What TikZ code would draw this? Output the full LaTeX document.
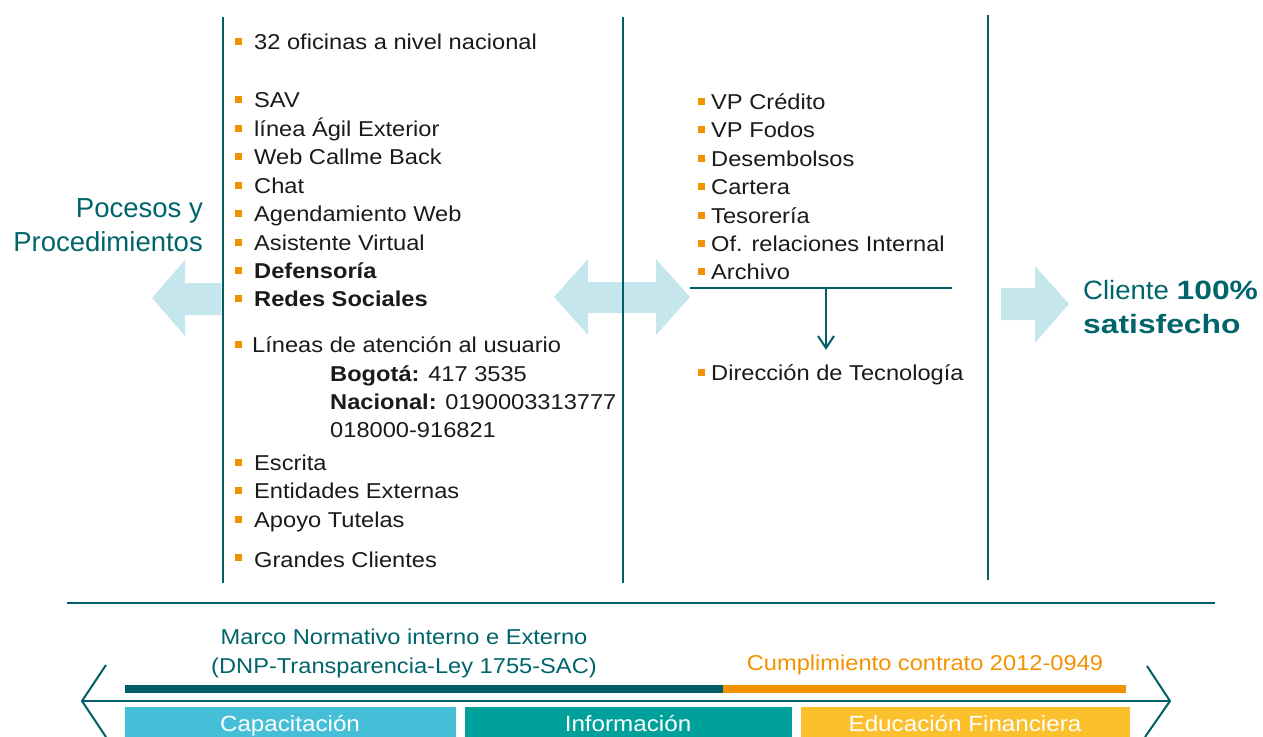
\documentclass[tikz,border=0pt]{standalone}
\usepackage{fontspec}
\setmainfont{Liberation Sans}
\newfontfamily\widefont{Liberation Sans}[FakeStretch=1.1]
\newfontfamily\clireg{Liberation Sans}[FakeStretch=1.04]
\newfontfamily\clibold{Liberation Sans}[FakeStretch=1.2]
\definecolor{teal}{HTML}{005E66}
\definecolor{tealtext}{HTML}{00646B}
\definecolor{bulorange}{HTML}{F39200}
\definecolor{lightblue}{HTML}{C6E6ED}
\definecolor{capblue}{HTML}{45BFD8}
\definecolor{infteal}{HTML}{00A19B}
\definecolor{eduyellow}{HTML}{FBC02D}
\definecolor{txt}{HTML}{1A1A1A}
\begin{document}
\begin{tikzpicture}[x=1pt,y=-1pt,
  item/.style={anchor=west,inner sep=0pt,text height=15.4pt,text depth=0pt,
    font=\widefont\fontsize{21.5}{26}\selectfont,text=txt},
  bul/.style={fill=bulorange,minimum size=7pt,inner sep=0pt},
  vline/.style={draw=teal,line width=2pt},
  bigarrow/.style={fill=lightblue,draw=none},
  bottxt/.style={inner sep=0pt,text height=15.4pt,text depth=0pt,
    font=\widefont\fontsize{21.5}{26}\selectfont},
  boxtxt/.style={inner sep=0pt,text height=15.8pt,text depth=0pt,text=white,
    font=\widefont\fontsize{22}{26}\selectfont},
  clitxt/.style={anchor=west,inner sep=0pt,text height=19pt,text depth=0pt,text=tealtext,
    font=\fontsize{26.5}{32}\selectfont}]
\useasboundingbox (0,0) rectangle (1263,736);
\clip (0,0) rectangle (1263,736);

% big light arrows
\fill[bigarrow] (221,283) -- (185,283) -- (185,260) -- (152,298) -- (185,336) -- (185,315) -- (221,315) -- cycle;
\fill[bigarrow] (554,297) -- (588,259) -- (588,282) -- (656,282) -- (656,259) -- (690,297) -- (656,335) -- (656,313) -- (588,313) -- (588,335) -- cycle;
\fill[bigarrow] (1001,288) -- (1035,288) -- (1035,266) -- (1069,304) -- (1035,343) -- (1035,320) -- (1001,320) -- cycle;

% vertical lines
\coordinate (v1t) at (223,17); \coordinate (v1b) at (223,583);
\coordinate (v2t) at (623,17); \coordinate (v2b) at (623,583);
\coordinate (v3t) at (988,15); \coordinate (v3b) at (988,580);
\draw[vline] (v1t) -- (v1b);
\draw[vline] (v2t) -- (v2b);
\draw[vline] (v3t) -- (v3b);

% left title
\node[anchor=east,inner sep=0pt,text height=19.7pt,text depth=0pt,text=tealtext,
  font=\fontsize{27.5}{32}\selectfont] (pt1) at (203,208) {Pocesos y};
\node[anchor=east,inner sep=0pt,text height=19.7pt,text depth=0pt,text=tealtext,
  font=\fontsize{27.5}{32}\selectfont] (pt2) at (203,242) {Procedimientos};

% right title
\node[clitxt] (cl1) at (1083,290) {\clireg Cliente \clibold\bfseries 100\%};
\node[clitxt] (cl2) at (1083,324) {\clibold\bfseries satisfecho};

% left list
\foreach \n/\y/\t in {a/42/{32 oficinas a nivel nacional},b/100/SAV,c/129/{línea Ágil Exterior},
  d/157/{Web Callme Back},e/186/Chat,f/214/{Agendamiento Web},g/243/{Asistente Virtual},
  h/271/{\textbf{Defensoría}},i/299/{\textbf{Redes Sociales}},
  k/463/Escrita,l/491/{Entidades Externas},m/520/{Apoyo Tutelas}}{
  \node[bul] (lb\n) at (238,\y-1) {};
  \node[item] (lt\n) at (254,\y) {\t};
}
\node[bul] (lbj) at (238,344) {};
\node[item] (ltj) at (252,345) {Líneas de atención al usuario};
\node[item] (ltj1) at (330,374) {\textbf{Bogotá:} 417 3535};
\node[item] (ltj2) at (330,402) {\textbf{Nacional:} 0190003313777};
\node[item] (ltj3) at (330,430) {018000-916821};
\node[bul] (lbn) at (238,557) {};
\node[item] (ltn) at (254,560) {Grandes Clientes};

% middle list
\foreach \n/\y/\t in {a/102/{VP Crédito},b/130/{VP Fodos},c/159/Desembolsos,d/187/Cartera,
  e/216/Tesorería,f/244/{Of. relaciones Internal},g/272/Archivo,h/373/{Dirección de Tecnología}}{
  \node[bul] (mb\n) at (701,\y-1) {};
  \node[item] (mt\n) at (711,\y) {\t};
}
\coordinate (hl1) at (690,288); \coordinate (hl2) at (952,288);
\coordinate (split) at (826,288); \coordinate (tip) at (826,348);
\draw[teal,line width=2pt] (hl1) -- (hl2);
\draw[teal,line width=2pt] (split) -- (tip);
\draw[teal,line width=2pt] (818,336) -- (tip) -- (834,336);

% separator
\coordinate (s1) at (67,603); \coordinate (s2) at (1215,603);
\draw[teal,line width=2.5pt] (s1) -- (s2);

% bottom texts
\node[bottxt,text=tealtext] (mn1) at (404,637) {Marco Normativo interno e Externo};
\node[bottxt,text=tealtext] (mn2) at (404,666) {(DNP-Transparencia-Ley 1755-SAC)};
\node[bottxt,text=bulorange] (cc) at (925,663) {Cumplimiento contrato 2012-0949};

% bars
\fill[teal] (125,685) rectangle (723,693);
\fill[bulorange] (723,685) rectangle (1126,693);

% timeline arrow
\coordinate (tl) at (82,701); \coordinate (tr) at (1170,701);
\draw[teal,line width=2pt] (tl) -- (tr);
\draw[teal,line width=2pt] (106,665) -- (tl) -- (106,737);
\draw[teal,line width=2pt] (1147,666) -- (tr) -- (1145,737);

% boxes
\fill[capblue] (125,707) rectangle (456,740);
\fill[infteal] (465,707) rectangle (792,740);
\fill[eduyellow] (801,707) rectangle (1130,740);
\node[boxtxt] (bx1) at (290,724) {Capacitación};
\node[boxtxt] (bx2) at (628,724) {Información};
\node[boxtxt] (bx3) at (965,724) {Educación Financiera};
\end{tikzpicture}
\end{document}
